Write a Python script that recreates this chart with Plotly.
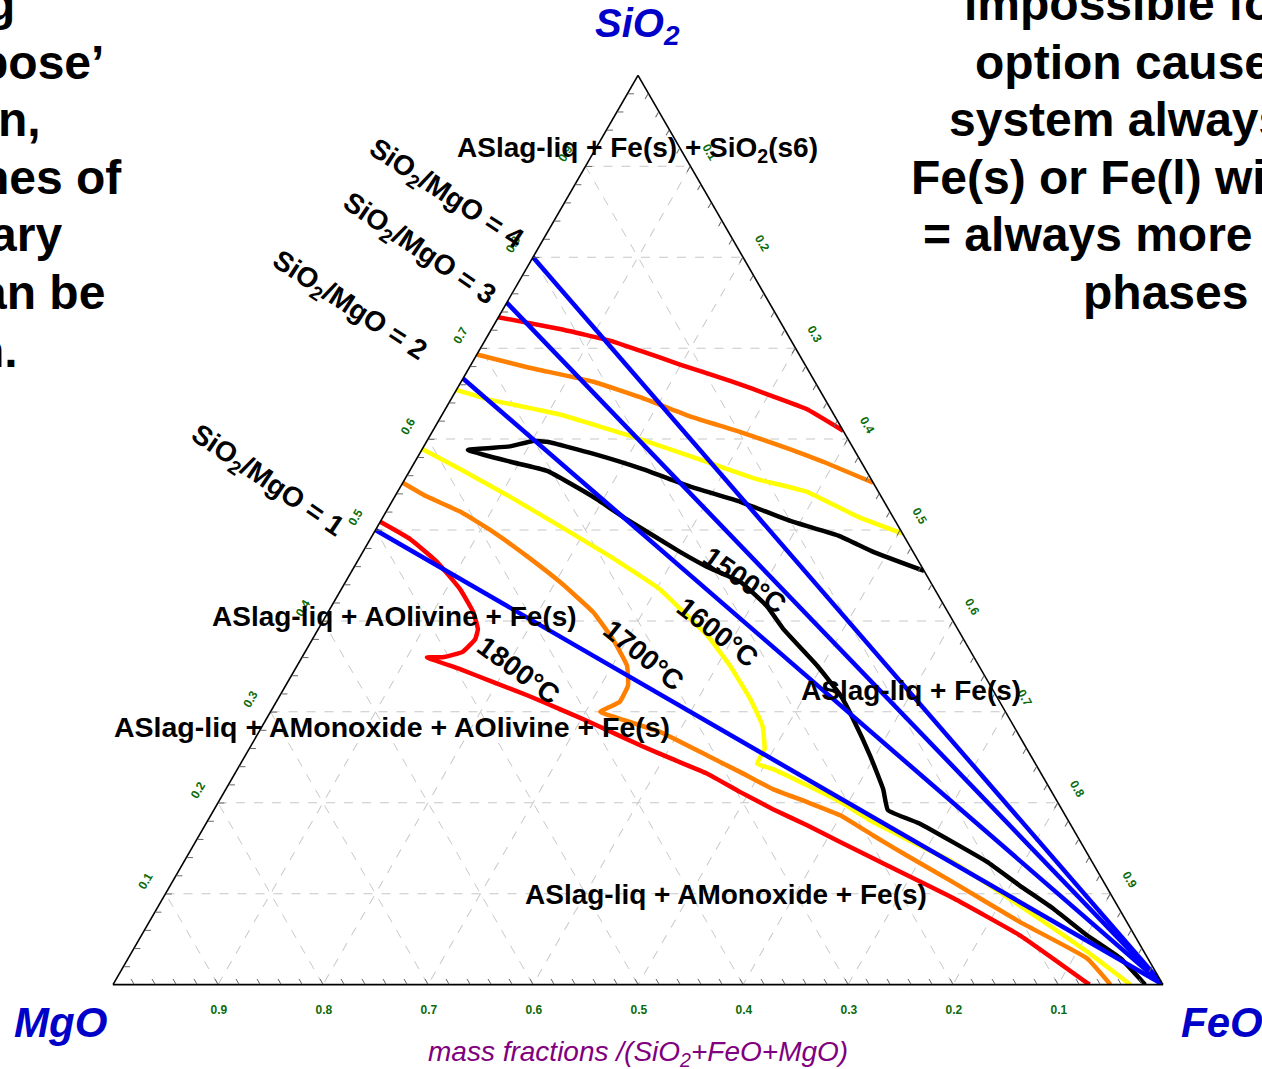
import plotly.graph_objects as go

W, H = 1262, 1069

# ---------------- data (mass fractions) ----------------
# a = SiO2 (top), b = MgO (bottom-left), c = FeO (bottom-right)
ratio_values = [1, 2, 3, 4]          # SiO2/MgO ratio lines, drawn to the FeO corner

iso1800_hi_sio2 = [0.734, 0.721, 0.708, 0.697, 0.682, 0.663, 0.647, 0.633, 0.609]
iso1800_hi_feo = [0.000, 0.065, 0.120, 0.154, 0.199, 0.259, 0.305, 0.344, 0.391]

iso1700_hi_sio2 = [0.693, 0.679, 0.663, 0.646, 0.625, 0.608, 0.589, 0.575, 0.552]
iso1700_hi_feo = [0.000, 0.055, 0.126, 0.179, 0.237, 0.293, 0.350, 0.389, 0.448]

iso1600_hi_sio2 = [0.654, 0.644, 0.627, 0.600, 0.575, 0.556, 0.542, 0.515, 0.496]
iso1600_hi_feo = [0.000, 0.034, 0.112, 0.202, 0.278, 0.335, 0.390, 0.451, 0.504]

iso1500_sio2 = [0.455, 0.476, 0.493, 0.510, 0.531, 0.548, 0.567, 0.584, 0.597, 0.598, 0.592, 0.588,
                0.575, 0.565, 0.537, 0.512, 0.476, 0.460, 0.443, 0.416, 0.391, 0.351, 0.318, 0.292,
                0.252, 0.215, 0.192, 0.177, 0.157, 0.135, 0.109, 0.084, 0.054, 0.029, 0.000]
iso1500_feo = [0.545, 0.486, 0.446, 0.390, 0.332, 0.275, 0.221, 0.165, 0.115, 0.101, 0.082, 0.044,
               0.091, 0.131, 0.188, 0.233, 0.302, 0.335, 0.376, 0.415, 0.443, 0.495, 0.534, 0.559,
               0.595, 0.626, 0.642, 0.680, 0.721, 0.765, 0.809, 0.853, 0.901, 0.945, 0.983]

iso1600_lo_sio2 = [0.589, 0.567, 0.537, 0.504, 0.471, 0.435, 0.410, 0.384, 0.351, 0.314, 0.285,
                   0.259, 0.243, 0.237, 0.219, 0.201, 0.179, 0.160, 0.135, 0.087, 0.036, 0.000]
iso1600_lo_feo = [0.000, 0.047, 0.109, 0.174, 0.238, 0.303, 0.338, 0.374, 0.412, 0.450, 0.476,
                  0.491, 0.492, 0.510, 0.552, 0.592, 0.634, 0.676, 0.732, 0.820, 0.910, 0.969]

iso1700_lo_sio2 = [0.552, 0.537, 0.520, 0.498, 0.471, 0.443, 0.410, 0.380, 0.351, 0.329, 0.311,
                   0.300, 0.290, 0.278, 0.252, 0.234, 0.215, 0.201, 0.186, 0.164, 0.142, 0.113,
                   0.069, 0.029, 0.000]
iso1700_lo_feo = [0.000, 0.030, 0.071, 0.113, 0.159, 0.204, 0.252, 0.286, 0.314, 0.326, 0.327,
                  0.314, 0.344, 0.382, 0.440, 0.480, 0.521, 0.560, 0.600, 0.642, 0.685, 0.743,
                  0.829, 0.913, 0.950]

iso1800_lo_sio2 = [0.509, 0.490, 0.465, 0.435, 0.410, 0.391, 0.380, 0.366, 0.360, 0.360, 0.347,
                   0.333, 0.318, 0.303, 0.287, 0.263, 0.248, 0.232, 0.212, 0.193, 0.175, 0.157,
                   0.131, 0.095, 0.054, 0.000]
iso1800_lo_feo = [0.000, 0.038, 0.076, 0.113, 0.138, 0.152, 0.155, 0.150, 0.134, 0.119, 0.157,
                  0.195, 0.236, 0.274, 0.314, 0.371, 0.409, 0.450, 0.491, 0.532, 0.574, 0.614,
                  0.672, 0.753, 0.837, 0.930]

tick_values = [0.1, 0.2, 0.3, 0.4, 0.5, 0.6, 0.7, 0.8, 0.9]
tick_labels = ["0.1", "0.2", "0.3", "0.4", "0.5", "0.6", "0.7", "0.8", "0.9"]

FONT = "Liberation Sans, Arial, sans-serif"
PAD = "\u00a0" * 4


def mgo(sio2, feo):
    return [max(0.0, round(1 - s - f, 4)) for s, f in zip(sio2, feo)]


fig = go.Figure()

curves = [
    (iso1800_hi_sio2, iso1800_hi_feo, "#ff0000"),
    (iso1800_lo_sio2, iso1800_lo_feo, "#ff0000"),
    (iso1700_hi_sio2, iso1700_hi_feo, "#ff8000"),
    (iso1700_lo_sio2, iso1700_lo_feo, "#ff8000"),
    (iso1600_hi_sio2, iso1600_hi_feo, "#ffff00"),
    (iso1600_lo_sio2, iso1600_lo_feo, "#ffff00"),
    (iso1500_sio2, iso1500_feo, "#000000"),
]
for s, f, col in curves:
    fig.add_trace(go.Scatterternary(a=s, b=mgo(s, f), c=f, mode="lines",
                                    line=dict(color=col, width=4.5, shape="spline",
                                              smoothing=0.35),
                                    hoverinfo="skip", showlegend=False))

for r in ratio_values:
    a0 = r / (1 + r)
    b0 = 1 / (1 + r)
    fig.add_trace(go.Scatterternary(a=[a0, 0], b=[b0, 0], c=[0, 1], mode="lines",
                                    line=dict(color="#0000ff", width=4.5), hoverinfo="skip",
                                    showlegend=False))

# invisible trace so that the minor-tick overlay subplot is drawn
fig.add_trace(go.Scatterternary(a=[1], b=[0], c=[0], mode="markers", subplot="ternary2",
                                marker=dict(size=1, color="rgba(0,0,0,0)"),
                                hoverinfo="skip", showlegend=False))

axis_common = dict(
    tickmode="array", tickvals=tick_values,
    tickfont=dict(color="#0b6b0b", size=12, family=FONT, weight="bold"),
    ticks="outside", ticklen=15, tickcolor="rgba(0,0,0,0)", tickwidth=1,
    linecolor="black", linewidth=1.6,
    showgrid=True, gridcolor="#c8c8c8", griddash="dash", gridwidth=1,
    min=0, title=dict(text=""),
)

minor_axis = dict(
    tickmode="linear", tick0=0, dtick=0.02,
    ticks="inside", ticklen=6, tickcolor="#666666", tickwidth=1,
    showticklabels=False, showline=False, showgrid=False,
    min=0, title=dict(text=""),
)

tx0, tx1 = 113 / W, 1163 / W
yc = 1 - 530 / H
hh = 455 / H
dom = dict(x=[tx0, tx1], y=[yc - hh, yc + hh])

fig.update_layout(
    width=W, height=H,
    margin=dict(l=0, r=0, t=0, b=0),
    paper_bgcolor="white",
    showlegend=False,
    ternary=dict(
        sum=1, domain=dom, bgcolor="white",
        aaxis=dict(axis_common, tickangle=-60, ticktext=[PAD + t for t in tick_labels]),
        baxis=dict(axis_common, ticktext=[t + PAD for t in tick_labels]),
        caxis=dict(axis_common, tickangle=60, ticktext=[PAD + t for t in tick_labels]),
    ),
    ternary2=dict(
        sum=1, domain=dom, bgcolor="rgba(0,0,0,0)",
        aaxis=minor_axis, baxis=minor_axis, caxis=minor_axis,
    ),
)


def px(x, y):
    return x / W, 1 - y / H


ann = []


def add_text(x, y, text, size, color="black", angle=0, xanchor="center", bold=True,
             italic=False):
    X, Y = px(x, y)
    t = text
    if bold:
        t = "<b>" + t + "</b>"
    if italic:
        t = "<i>" + t + "</i>"
    ann.append(dict(x=X, y=Y, xref="paper", yref="paper", text=t, showarrow=False,
                    xanchor=xanchor, yanchor="middle", textangle=angle,
                    font=dict(size=size, color=color, family=FONT)))


# vertex titles
add_text(638, 26, "SiO<sub>2</sub>", 40, color="#0000c8", italic=True)
add_text(60, 1022, "MgO", 42, color="#0000c8", italic=True)
add_text(1222, 1022, "FeO", 42, color="#0000c8", italic=True)
add_text(638, 1053, "mass fractions /(SiO<sub>2</sub>+FeO+MgO)", 28, color="#800080",
         italic=True, bold=False)

# phase region labels
add_text(638, 150, "ASlag-liq + Fe(s) + SiO<sub>2</sub>(s6)", 28)
add_text(394, 616, "ASlag-liq + AOlivine + Fe(s)", 28)
add_text(392, 727, "ASlag-liq + AMonoxide + AOlivine + Fe(s)", 28.5)
add_text(911, 690, "ASlag-liq + Fe(s)", 28)
add_text(726, 894, "ASlag-liq + AMonoxide + Fe(s)", 28)

# ratio labels
add_text(445, 195, "SiO<sub>2</sub>/MgO = 4", 28, angle=33)
add_text(418, 250, "SiO<sub>2</sub>/MgO = 3", 28, angle=34)
add_text(349, 306, "SiO<sub>2</sub>/MgO = 2", 28, angle=33)
add_text(267, 481, "SiO<sub>2</sub>/MgO = 1", 28, angle=34)

# isotherm labels
add_text(745, 580, "1500°C", 28, angle=35)
add_text(718, 632, "1600°C", 28, angle=38)
add_text(644, 655, "1700°C", 28, angle=39)
add_text(519, 670, "1800°C", 28, angle=36)

# slide text cut at the edges
left_lines = [("g", 17, 4), ("pose’", 106, 62), ("n,", 43, 120), ("nes of", 124, 177),
              ("ary", 64, 235), ("an be", 107, 292), ("n.", 20, 350)]
for t, xr, y in left_lines:
    add_text(xr, y, t, 48, xanchor="right")

right_lines = [("impossible for", 962, 4), ("option causes", 973, 62),
               ("system always", 947, 120), ("Fe(s) or Fe(l) with", 909, 177),
               ("= always more", 921, 235), ("phases", 1081, 292)]
for t, xl, y in right_lines:
    add_text(xl, y, t, 48, xanchor="left")

fig.update_layout(annotations=ann)
fig.write_html("out.html")
